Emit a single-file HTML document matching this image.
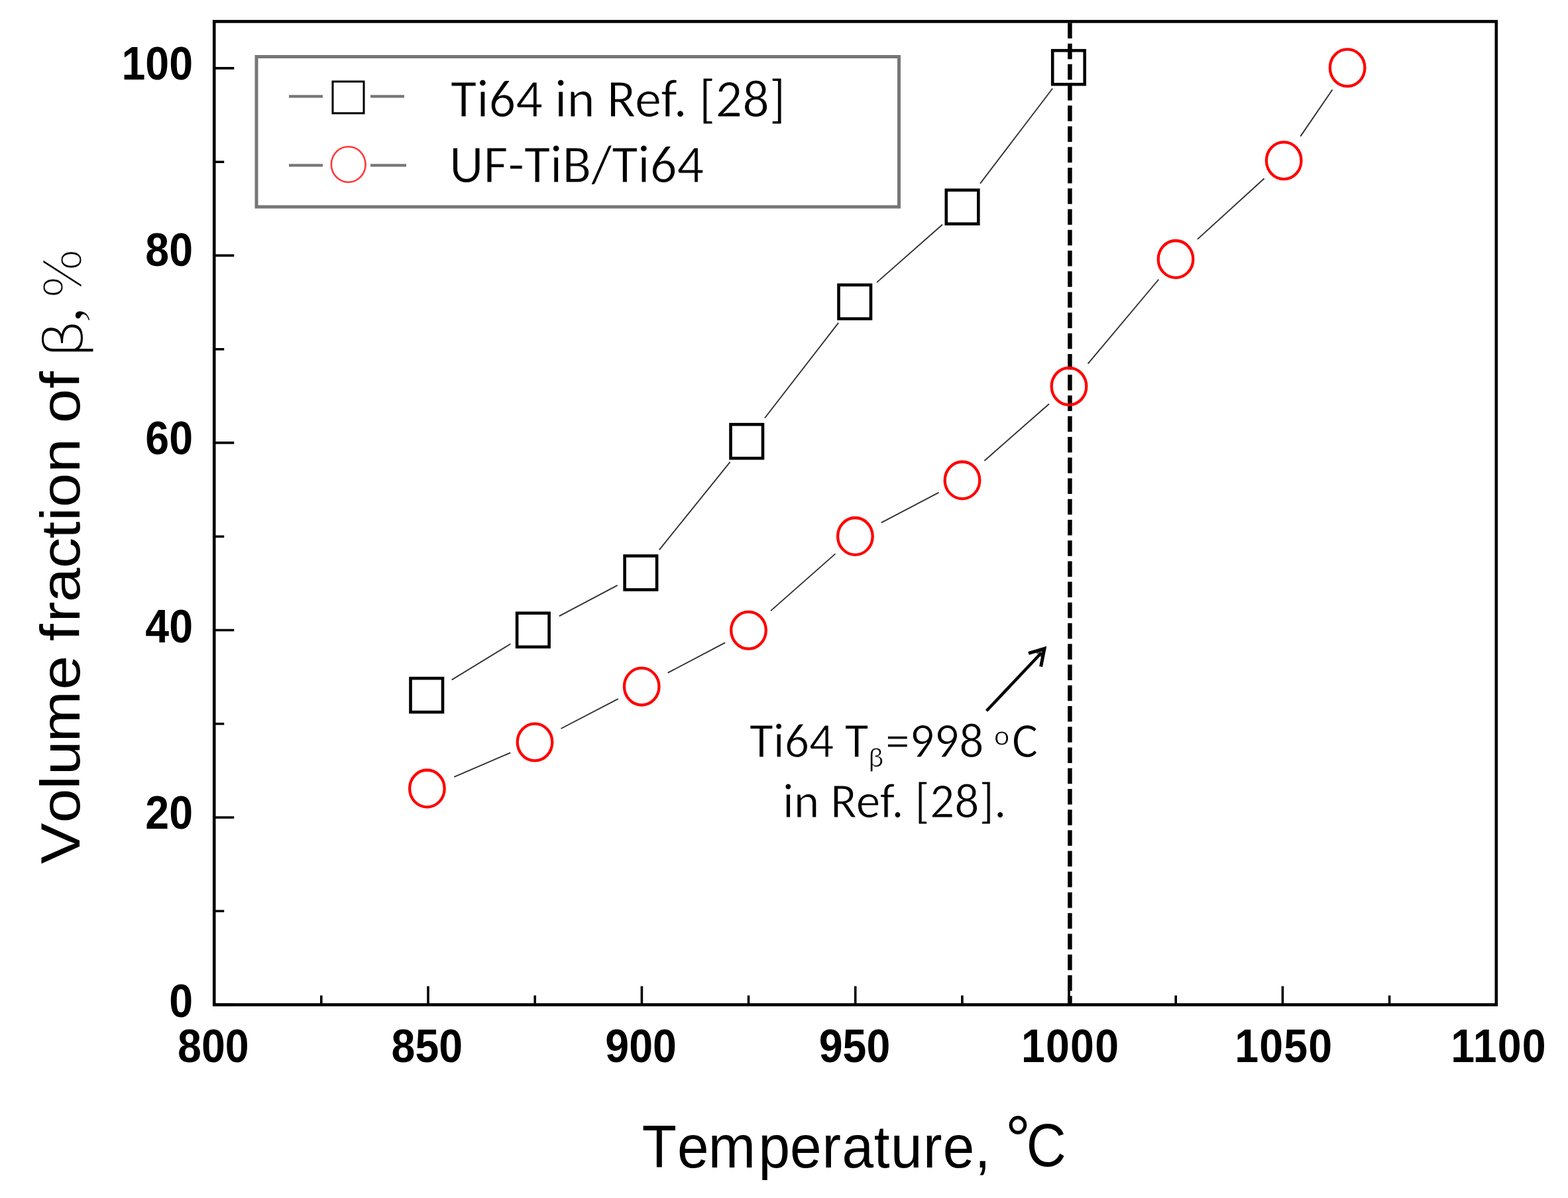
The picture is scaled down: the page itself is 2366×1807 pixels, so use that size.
<!DOCTYPE html>
<html><head><meta charset="utf-8"><title>Volume fraction of β vs Temperature</title>
<style>html,body{margin:0;padding:0;background:#fff;overflow:hidden;}svg{display:block;}</style></head>
<body>
<svg width="2366" height="1807" viewBox="0 0 2366 1807">
<rect x="0" y="0" width="2366" height="1807" fill="#fff"/>
<path d="M323.2 1515.5H353.2 M323.2 1374.2H338.2 M323.2 1233.0H353.2 M323.2 1091.7H338.2 M323.2 950.5H353.2 M323.2 809.2H338.2 M323.2 667.9H353.2 M323.2 526.7H338.2 M323.2 385.4H353.2 M323.2 244.2H338.2 M323.2 102.9H353.2 M484.8 1515.5V1501.5 M646.0 1515.5V1487.5 M807.2 1515.5V1501.5 M968.4 1515.5V1487.5 M1129.5 1515.5V1501.5 M1290.7 1515.5V1487.5 M1451.9 1515.5V1501.5 M1613.0 1515.5V1487.5 M1774.2 1515.5V1501.5 M1935.4 1515.5V1487.5 M2096.6 1515.5V1501.5" stroke="#000" stroke-width="3.6" fill="none"/>
<line x1="1614.4" y1="32.4" x2="1614.4" y2="1515.5" stroke="#000" stroke-width="6.5" stroke-dasharray="23.5 7.73" stroke-dashoffset="-2"/>
<rect x="323.2" y="32.4" width="1934.6" height="1483.1" fill="none" stroke="#000" stroke-width="4.6"/>
<text transform="translate(321.9,1602) scale(1,1.09)" text-anchor="middle" font-family="Liberation Sans, Arial, sans-serif" font-weight="bold" font-size="64.5">800</text>
<text transform="translate(644.4,1602) scale(1,1.09)" text-anchor="middle" font-family="Liberation Sans, Arial, sans-serif" font-weight="bold" font-size="64.5">850</text>
<text transform="translate(967.1,1602) scale(1,1.09)" text-anchor="middle" font-family="Liberation Sans, Arial, sans-serif" font-weight="bold" font-size="64.5">900</text>
<text transform="translate(1289.5,1602) scale(1,1.09)" text-anchor="middle" font-family="Liberation Sans, Arial, sans-serif" font-weight="bold" font-size="64.5">950</text>
<text transform="translate(1615.1,1602) scale(1,1.09)" text-anchor="middle" font-family="Liberation Sans, Arial, sans-serif" font-weight="bold" font-size="64.5" letter-spacing="1.2">1000</text>
<text transform="translate(1937.3,1602) scale(1,1.09)" text-anchor="middle" font-family="Liberation Sans, Arial, sans-serif" font-weight="bold" font-size="64.5" letter-spacing="1.2">1050</text>
<text transform="translate(2261.5,1602) scale(1,1.09)" text-anchor="middle" font-family="Liberation Sans, Arial, sans-serif" font-weight="bold" font-size="64.5" letter-spacing="1.2">1100</text>
<text transform="translate(291,1534.0) scale(1,1.09)" text-anchor="end" font-family="Liberation Sans, Arial, sans-serif" font-weight="bold" font-size="64.5">0</text>
<text transform="translate(291,1250.1) scale(1,1.09)" text-anchor="end" font-family="Liberation Sans, Arial, sans-serif" font-weight="bold" font-size="64.5">20</text>
<text transform="translate(291,969.0) scale(1,1.09)" text-anchor="end" font-family="Liberation Sans, Arial, sans-serif" font-weight="bold" font-size="64.5">40</text>
<text transform="translate(291,684.6) scale(1,1.09)" text-anchor="end" font-family="Liberation Sans, Arial, sans-serif" font-weight="bold" font-size="64.5">60</text>
<text transform="translate(291,400.8) scale(1,1.09)" text-anchor="end" font-family="Liberation Sans, Arial, sans-serif" font-weight="bold" font-size="64.5">80</text>
<text transform="translate(291,120.0) scale(1,1.09)" text-anchor="end" font-family="Liberation Sans, Arial, sans-serif" font-weight="bold" font-size="64.5">100</text>
<path d="M681.7 1025.4L770.3 971.2 M843.7 929.4L931.6 882.8 M994.8 829.4L1101.6 696.8 M1154.0 630.5L1265.2 486.9 M1323.1 425.9L1422.0 338.7 M1479.0 276.8L1588.2 133.5 M685.3 1171.8L770.3 1135.3 M846.5 1099.0L932.7 1054.1 M1007.6 1014.9L1094.1 969.4 M1162.9 921.4L1260.4 835.4 M1329.8 788.3L1416.6 742.9 M1485.4 695.0L1583.0 609.2 M1641.6 548.7L1748.3 421.5 M1806.9 360.9L1907.6 269.2 M1962.3 205.6L2010.5 135.2" stroke="#303030" stroke-width="1.9" fill="none"/>
<rect x="619.5" y="1023.1" width="48.5" height="51" fill="none" stroke="#000" stroke-width="4.6"/>
<rect x="780.1" y="924.8" width="48.5" height="51" fill="none" stroke="#000" stroke-width="4.6"/>
<rect x="942.6" y="838.5" width="48.5" height="51" fill="none" stroke="#000" stroke-width="4.6"/>
<rect x="1102.5" y="640.2" width="48.5" height="51" fill="none" stroke="#000" stroke-width="4.6"/>
<rect x="1265.5" y="429.8" width="48.5" height="51" fill="none" stroke="#000" stroke-width="4.6"/>
<rect x="1427.8" y="286.7" width="48.5" height="51" fill="none" stroke="#000" stroke-width="4.6"/>
<rect x="1588.2" y="76.2" width="48.5" height="51" fill="none" stroke="#000" stroke-width="4.6"/>
<ellipse cx="644.4" cy="1189.4" rx="26.3" ry="27.9" fill="none" stroke="#f00" stroke-width="4.3"/>
<ellipse cx="807" cy="1119.5" rx="26.3" ry="27.9" fill="none" stroke="#f00" stroke-width="4.3"/>
<ellipse cx="968.2" cy="1035.6" rx="26.3" ry="27.9" fill="none" stroke="#f00" stroke-width="4.3"/>
<ellipse cx="1129.5" cy="950.8" rx="26.3" ry="27.9" fill="none" stroke="#f00" stroke-width="4.3"/>
<ellipse cx="1290.4" cy="808.9" rx="26.3" ry="27.9" fill="none" stroke="#f00" stroke-width="4.3"/>
<ellipse cx="1452" cy="724.4" rx="26.3" ry="27.9" fill="none" stroke="#f00" stroke-width="4.3"/>
<ellipse cx="1613" cy="582.8" rx="26.3" ry="27.9" fill="none" stroke="#f00" stroke-width="4.3"/>
<ellipse cx="1774" cy="390.9" rx="26.3" ry="27.9" fill="none" stroke="#f00" stroke-width="4.3"/>
<ellipse cx="1937.2" cy="242.3" rx="26.3" ry="27.9" fill="none" stroke="#f00" stroke-width="4.3"/>
<ellipse cx="2033.1" cy="102.2" rx="26.3" ry="27.9" fill="none" stroke="#f00" stroke-width="4.3"/>
<rect x="387" y="85.5" width="969.5" height="226.5" fill="none" stroke="#777" stroke-width="5"/>
<path d="M436 145.3H487M559 145.3H610M436 249.3H487M559 249.3H613" stroke="#777" stroke-width="4.2" fill="none"/>
<rect x="502" y="123" width="47" height="47.8" fill="none" stroke="#000" stroke-width="3"/>
<ellipse cx="525.7" cy="248" rx="25.8" ry="26.8" fill="none" stroke="#ff3b3b" stroke-width="2.6"/>
<text x="680" y="175.5" font-family="Carlito, Calibri, Liberation Sans, sans-serif" stroke="#fff" stroke-width="1" font-size="80.3" fill="#000" textLength="505.5" lengthAdjust="spacingAndGlyphs">Ti64 in Ref. [28]</text>
<text x="678" y="274.5" font-family="Carlito, Calibri, Liberation Sans, sans-serif" stroke="#fff" stroke-width="1" font-size="80.3" fill="#000" textLength="384.2" lengthAdjust="spacingAndGlyphs">UF-TiB/Ti64</text>
<text x="1131" y="1141.5" font-family="Carlito, Calibri, Liberation Sans, sans-serif" stroke="#fff" stroke-width="1" font-size="73.5" fill="#000" textLength="179.6" lengthAdjust="spacingAndGlyphs">Ti64 T</text>
<text x="1310" y="1157" font-family="Carlito, Calibri, Liberation Sans, sans-serif" stroke="#fff" stroke-width="1" font-size="44" fill="#000">β</text>
<text x="1336" y="1141.5" font-family="Carlito, Calibri, Liberation Sans, sans-serif" stroke="#fff" stroke-width="1" font-size="73.5" fill="#000" textLength="148.4" lengthAdjust="spacingAndGlyphs">=998</text>
<text x="1500" y="1123.5" font-family="Carlito, Calibri, Liberation Sans, sans-serif" stroke="#fff" stroke-width="1" font-size="44" fill="#000">o</text>
<text x="1527" y="1141.5" font-family="Carlito, Calibri, Liberation Sans, sans-serif" stroke="#fff" stroke-width="1" font-size="73.5" fill="#000">C</text>
<text x="1181" y="1232.5" font-family="Carlito, Calibri, Liberation Sans, sans-serif" stroke="#fff" stroke-width="1" font-size="73.5" fill="#000" textLength="337.5" lengthAdjust="spacingAndGlyphs">in Ref. [28].</text>
<path d="M1488.6 1072.2L1571 985" stroke="#000" stroke-width="4.5" fill="none"/>
<path d="M1552 985.4L1576 978.3L1570.6 1005.4" stroke="#000" stroke-width="5" fill="none" stroke-miterlimit="10"/>
<path d="M1576 978.3L1562 983.5L1571.5 992Z" fill="#000" fill-opacity="0.6"/>
<text transform="translate(0,1761) scale(1,1.06)" x="968.8 1021.9 1068.8 1144.5 1192.1 1240.5 1270.5 1318.8 1344.0 1393.1 1422.7 1470.8" y="0" font-family="Liberation Sans, Arial, sans-serif" font-size="85.5" style="font-kerning:none">Temperature,</text>
<text transform="translate(0,1753) scale(1,1.05)" x="1516.9" y="0" font-family="Liberation Sans, Arial, sans-serif" font-size="95">°</text>
<text transform="translate(0,1759.3) scale(1,1.098)" x="1548.8" y="0" font-family="Liberation Sans, Arial, sans-serif" font-size="83">C</text>
<text transform="translate(119.8,1304) rotate(-90) scale(1.107,1)" x="0.6 56.6 102.3 122.0 166.7 238.1 247.5 304.4 330.1 357.5 403.5 443.9 467.9 486.6 534.0 545.6 601.5 648.7" y="0" font-family="Liberation Sans, Arial, sans-serif" font-size="84" style="font-kerning:none">Volume fraction of</text>
<text transform="translate(124,541.2) rotate(-90) scale(1.19,1)" font-family="DejaVu Sans, sans-serif" font-weight="200" font-size="80">β</text>
<text transform="translate(121.6,487.4) rotate(-90) scale(1.2,1.07)" font-family="Liberation Serif, serif" font-size="85" stroke="#fff" stroke-width="1.6">,</text>
<text transform="translate(122,451.2) rotate(-90) scale(1.088,1.01)" font-family="DejaVu Sans, sans-serif" font-weight="200" font-size="75" stroke="#fff" stroke-width="0.8">%</text>
</svg>
</body></html>
